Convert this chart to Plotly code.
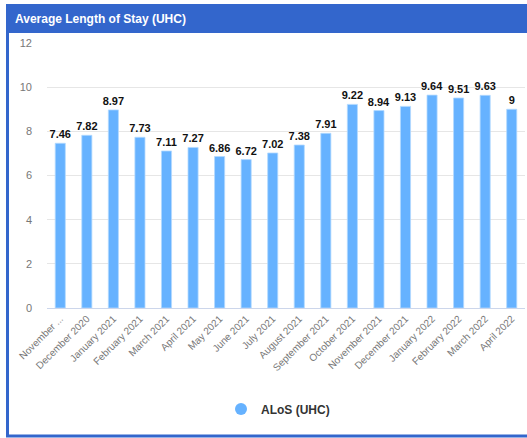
import plotly.graph_objects as go

categories = ["November 2020", "December 2020", "January 2021", "February 2021", "March 2021",
              "April 2021", "May 2021", "June 2021", "July 2021", "August 2021",
              "September 2021", "October 2021", "November 2021", "December 2021",
              "January 2022", "February 2022", "March 2022", "April 2022"]
tick_labels = ["November ..."] + categories[1:]
alos_values = [7.46, 7.82, 8.97, 7.73, 7.11, 7.27, 6.86, 6.72, 7.02, 7.38, 7.91,
               9.22, 8.94, 9.13, 9.64, 9.51, 9.63, 9]
series_name = "ALoS (UHC)"
title_text = "Average Length of Stay (UHC)"

W, H = 527, 438
L, R, T, B = 47, 525, 43, 308
pw, ph = R - L, B - T


def px(x):
    return (x - L) / pw


def py(y):
    return (B - y) / ph


BAR = "#66B2FF"
HEAD = "#3366CC"

fig = go.Figure()
fig.add_trace(go.Bar(
    x=categories, y=alos_values, name=series_name, showlegend=False,
    marker=dict(color=BAR, line=dict(color="#B3D9FF", width=0.8)),
    text=[f"{v:g}" for v in alos_values], textposition="outside", constraintext="none",
    textfont=dict(family="Liberation Sans", size=11, color="#111111", weight="bold"),
    cliponaxis=False,
))
fig.add_trace(go.Scatter(
    x=[None], y=[None], mode="markers", name=series_name,
    marker=dict(color=BAR, size=12, symbol="circle"),
))

shapes = [
    dict(type="rect", xref="paper", yref="paper", x0=px(7.5), x1=px(620), y0=py(5.5), y1=py(436),
         line=dict(color=HEAD, width=3), fillcolor="rgba(0,0,0,0)", layer="below"),
    dict(type="rect", xref="paper", yref="paper", x0=px(6), x1=px(620), y0=py(5), y1=py(33),
         line=dict(width=0), fillcolor=HEAD, layer="below"),
]

fig.update_layout(
    width=W, height=H,
    margin=dict(l=L, r=W - R, t=T, b=H - B, pad=0),
    paper_bgcolor="white", plot_bgcolor="white",
    font=dict(family="Liberation Sans", color="#666666"),
    bargap=0.62,
    shapes=shapes,
    showlegend=True,
    legend=dict(orientation="h", x=px(278), y=py(409), xanchor="center", yanchor="middle",
                font=dict(size=12, color="#333333", weight="bold"), itemwidth=30),
    annotations=[dict(text=title_text, xref="paper", yref="paper", x=px(13), y=py(19.5),
                      xanchor="left", yanchor="middle", showarrow=False,
                      font=dict(family="Liberation Sans", size=12, color="white", weight="bold"))],
)
fig.update_xaxes(
    type="category", tickvals=categories, ticktext=tick_labels, tickangle=-45,
    tickfont=dict(size=10, color="#777777"), showgrid=False,
    showline=True, linecolor="#CCD6EB", linewidth=1, ticks="",
)
fig.update_yaxes(
    range=[0, 12], dtick=2, showgrid=True, gridcolor="#E6E6E6", gridwidth=1,
    zeroline=False, tickfont=dict(size=11, color="#777777"), ticklabelstandoff=14,
)

fig.write_html("out.html", config={"displayModeBar": False},
               post_script="document.body.style.margin='0px';document.body.style.overflow='hidden';")
